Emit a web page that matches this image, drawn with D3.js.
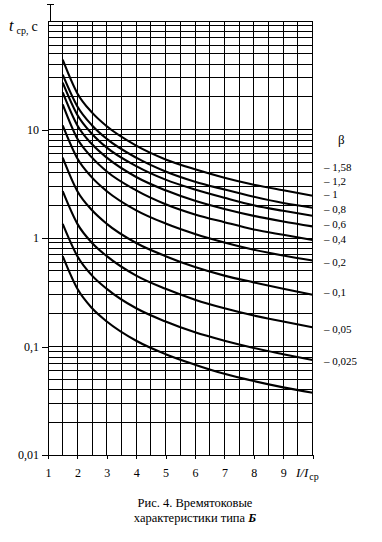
<!DOCTYPE html>
<html><head><meta charset="utf-8">
<script src="https://cdn.jsdelivr.net/npm/d3@7"></script>
<style>body{margin:0;background:#fff}svg{display:block}text{font-family:"Liberation Serif","Times New Roman","DejaVu Serif",serif;fill:#000}</style>
</head><body>
<svg id="c" width="382" height="542"></svg>
<script>
// I/Iср values where the curves were read
const currentRatio = [1.5, 2, 2.5, 3, 4, 5, 6, 7, 8, 9, 10];
// β labels (top to bottom)
const betaLabels = ["1,58", "1,2", "1", "0,8", "0,6", "0,4", "0,2", "0,1", "0,05", "0,025"];
// time values (s) read for each curve
const tBeta158  = [44, 21.5, 14.3, 10.7, 7.1, 5.3, 4.3, 3.6, 3.1, 2.75, 2.45];
const tBeta12   = [32, 16.3, 10.9, 8.2, 5.5, 4.1, 3.3, 2.8, 2.4, 2.1, 1.9];
const tBeta1    = [27, 13.6, 9.1, 6.8, 4.6, 3.45, 2.8, 2.35, 2.0, 1.78, 1.6];
const tBeta08   = [22, 10.9, 7.3, 5.5, 3.65, 2.75, 2.2, 1.85, 1.6, 1.42, 1.28];
const tBeta06   = [17, 8.2, 5.5, 4.1, 2.75, 2.05, 1.65, 1.4, 1.2, 1.07, 0.96];
const tBeta04   = [10.9, 5.4, 3.6, 2.7, 1.8, 1.36, 1.09, 0.91, 0.78, 0.69, 0.62];
const tBeta02   = [5.5, 2.7, 1.8, 1.35, 0.9, 0.68, 0.54, 0.45, 0.39, 0.34, 0.3];
const tBeta01   = [2.7, 1.35, 0.9, 0.68, 0.45, 0.34, 0.27, 0.225, 0.193, 0.17, 0.15];
const tBeta005  = [1.35, 0.68, 0.45, 0.34, 0.225, 0.17, 0.135, 0.113, 0.097, 0.085, 0.075];
const tBeta0025 = [0.68, 0.34, 0.225, 0.17, 0.113, 0.085, 0.068, 0.056, 0.048, 0.042, 0.0375];
const allSeries = [tBeta158, tBeta12, tBeta1, tBeta08, tBeta06, tBeta04, tBeta02, tBeta01, tBeta005, tBeta0025];
// time level at which each β label sits on the right side
const labelLevels = [4.45, 3.35, 2.53, 1.85, 1.32, 0.96, 0.6, 0.318, 0.145, 0.072];
// axis ticks
const xTickValues = [1, 2, 3, 4, 5, 6, 7, 8, 9, 10];
const yTickValues = [0.01, 0.1, 1, 10];
const yTickLabels = ["0,01", "0,1", "1", "10"];
const xDomain = [1, 10];
const yDomain = [0.01, 100];

const svg = d3.select("#c");
const x = d3.scaleLinear().domain(xDomain).range([48, 312.6]);
const y = d3.scaleLog().domain(yDomain).range([455, 21]);

const grid = svg.append("g").attr("shape-rendering", "crispEdges").attr("stroke", "#000").attr("stroke-width", 1);
// vertical grid every 0.5
const vLines = d3.range(xDomain[0], xDomain[1] + 0.01, 0.5);
grid.selectAll("line.v").data(vLines).join("line")
  .attr("x1", d => x(d)).attr("x2", d => x(d)).attr("y1", y(yDomain[1])).attr("y2", y(yDomain[0]));
// horizontal grid at 1..9 × 10^k
const hLines = [];
for (let k = -2; k <= 1; k++) for (let m = 1; m <= 9; m++) hLines.push(m * Math.pow(10, k));
hLines.push(100);
grid.selectAll("line.h").data(hLines).join("line")
  .attr("x1", x(xDomain[0])).attr("x2", x(xDomain[1])).attr("y1", d => y(d)).attr("y2", d => y(d));

// axes
const xAxis = d3.axisBottom(x).tickValues(xTickValues).tickSize(4).tickSizeOuter(0).tickPadding(9.5)
  .tickFormat(d => d < 10 ? d : "");
const gx = svg.append("g").attr("transform", `translate(0,${y(yDomain[0])})`).call(xAxis);
const yAxis = d3.axisLeft(y).tickValues(yTickValues).tickSize(6).tickSizeOuter(0).tickPadding(3)
  .tickFormat((d, i) => yTickLabels[i]);
const gy = svg.append("g").attr("transform", `translate(${x(xDomain[0])},0)`).call(yAxis);
[gx, gy].forEach(g => {
  g.attr("shape-rendering", "crispEdges");
  g.selectAll("path,line").attr("stroke", "#000");
  g.selectAll("text").style("font-family", '"Liberation Serif","Times New Roman",serif').style("font-size", "12px").attr("fill", "#000");
});

// I-beam marker above the time axis
svg.append("g").attr("stroke", "#000").attr("stroke-width", 1).attr("shape-rendering", "crispEdges").call(g => {
  g.append("line").attr("x1", 50).attr("x2", 50).attr("y1", 4).attr("y2", y(yDomain[1]));
  g.append("line").attr("x1", 46.5).attr("x2", 53.5).attr("y1", 4).attr("y2", 4);
});

// curves
const line = d3.line().x(d => x(d[0])).y(d => y(d[1])).curve(d3.curveMonotoneX);
svg.append("g").selectAll("path").data(allSeries).join("path")
  .attr("d", s => line(s.map((t, i) => [currentRatio[i], t])))
  .attr("fill", "none").attr("stroke", "#000").attr("stroke-width", 2.1).attr("stroke-linejoin", "round");

// β labels
svg.append("text").attr("x", 338).attr("y", 144).style("font-size", "13px").text("β");
svg.append("g").selectAll("text").data(betaLabels).join("text")
  .attr("x", 324).attr("y", (d, i) => y(labelLevels[i])).attr("dy", "0.32em")
  .style("font-size", "11px").text(d => "– " + d);

// axis titles
const yt = svg.append("text").attr("x", 9).attr("y", 31);
yt.append("tspan").style("font-style", "italic").style("font-size", "16px").text("t");
yt.append("tspan").attr("dx", 3).attr("dy", 3).style("font-size", "10px").text("ср,");
yt.append("tspan").attr("dx", 3).attr("dy", -3).style("font-size", "14px").text("с");

const xt = svg.append("text").attr("x", 296).attr("y", 477);
xt.append("tspan").style("font-style", "italic").style("font-size", "13px").text("I/I");
xt.append("tspan").attr("dx", 1).attr("dy", 3).style("font-size", "10px").text("ср");

// caption
svg.append("text").attr("x", 195).attr("y", 507).attr("text-anchor", "middle").style("font-size", "12.5px")
  .text("Рис. 4. Времятоковые");
const cap2 = svg.append("text").attr("x", 195).attr("y", 522).attr("text-anchor", "middle").style("font-size", "12.5px");
cap2.append("tspan").text("характеристики типа ");
cap2.append("tspan").style("font-weight", "bold").style("font-style", "italic").text("Б");
</script>
</body></html>
